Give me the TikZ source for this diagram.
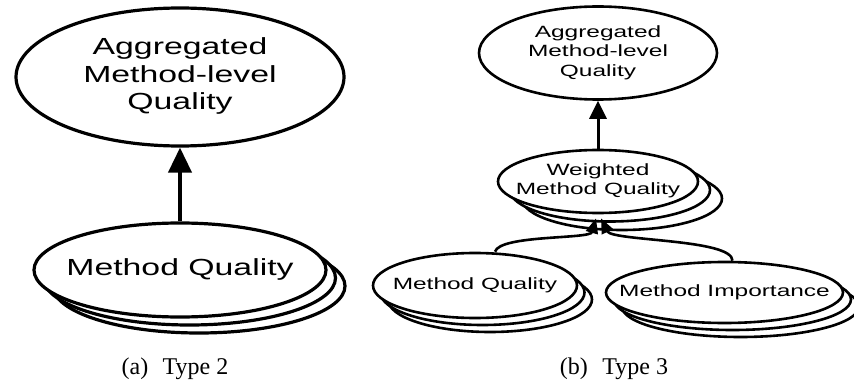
\documentclass[tikz,border=0pt]{standalone}
\usepackage{fontspec}
\setmainfont{Liberation Serif}
\setsansfont{Liberation Sans}
\usepackage{graphicx}
\usetikzlibrary{shapes.geometric,arrows.meta}

% wide sans text, stretched sideways, no width of its own
\newcommand{\bubtext}[2]{\makebox[0pt]{\scalebox{#1}[1]{\begin{tabular}{@{}c@{}}#2\end{tabular}}}}

\tikzset{
  bubble/.style={ellipse, draw, fill=white, inner sep=0pt},
  bigbub/.style={bubble, line width=3.2pt, font=\sffamily\fontsize{23.3}{27.5}\selectfont},
  smallbub/.style={bubble, line width=2.6pt, font=\sffamily\fontsize{16.3}{19.2}\selectfont},
  caption/.style={anchor=base, font=\fontsize{24}{28}\selectfont},
}

\begin{document}
\begin{tikzpicture}[x=1pt,y=-1pt]
    \useasboundingbox (0,0) rectangle (854,385);

    % (a) Type 2
    \node[bigbub, minimum width=328pt, minimum height=138pt] (agg) at (180,77)
        {\bubtext{1.45}{Aggregated\\Method-level\\Quality}};
    \foreach \i in {2,1}
        \node[bigbub, minimum width=292pt, minimum height=94pt] (mq\i) at (180+9.5*\i, 270+8*\i) {};
    \node[bigbub, minimum width=292pt, minimum height=94pt] (mq) at (180,270)
        {\bubtext{1.45}{Method Quality}};
    \draw[line width=4pt, -{Triangle[length=25pt,width=23pt]}] (mq) -- (agg);

    % (b) Type 3
    \node[smallbub, minimum width=238pt, minimum height=93pt] (agg2) at (598,53)
        {\bubtext{1.5}{Aggregated\\Method-level\\Quality}};
    \foreach \i in {2,1} {
        \node[smallbub, minimum width=200pt, minimum height=63pt] (wmq\i) at (598+12*\i, 181.5+8.5*\i) {};
        \node[smallbub, minimum width=204pt, minimum height=65pt] (mqb\i) at (475+7.5*\i, 285.5+7*\i) {};
        \node[smallbub, minimum width=237pt, minimum height=61pt] (mi\i) at (724.5+8*\i, 292.5+7*\i) {};
    }
    \node[smallbub, minimum width=200pt, minimum height=63pt] (wmq) at (598,181.5)
        {\bubtext{1.5}{Weighted\\Method Quality}};
    \node[smallbub, minimum width=204pt, minimum height=65pt] (mqb) at (475,285.5)
        {\bubtext{1.5}{Method Quality}};
    \node[smallbub, minimum width=237pt, minimum height=61pt] (mi) at (724.5,292.5)
        {\bubtext{1.5}{Method Importance}};

    \draw[line width=3pt, -{Triangle[length=18pt,width=17pt]}] (wmq) -- (agg2);
    \draw[line width=2.6pt, -{Triangle[length=15pt,width=12pt]}]
        ([xshift=20pt]mqb.north) .. controls +(5,-17) and +(-6,21) .. ([xshift=-2pt,yshift=-4pt]wmq.south);
    \draw[line width=2.6pt, -{Triangle[length=15pt,width=12pt]}]
        ([xshift=8pt]mi.north) .. controls +(0,-22) and +(11,23) .. ([xshift=3pt,yshift=-4pt]wmq.south);

    \node[caption] (capa) at (175,374) {(a)\hspace{0.6em}Type 2};
    \node[caption] (capb) at (614,374) {(b)\hspace{0.6em}Type 3};
\end{tikzpicture}
\end{document}
